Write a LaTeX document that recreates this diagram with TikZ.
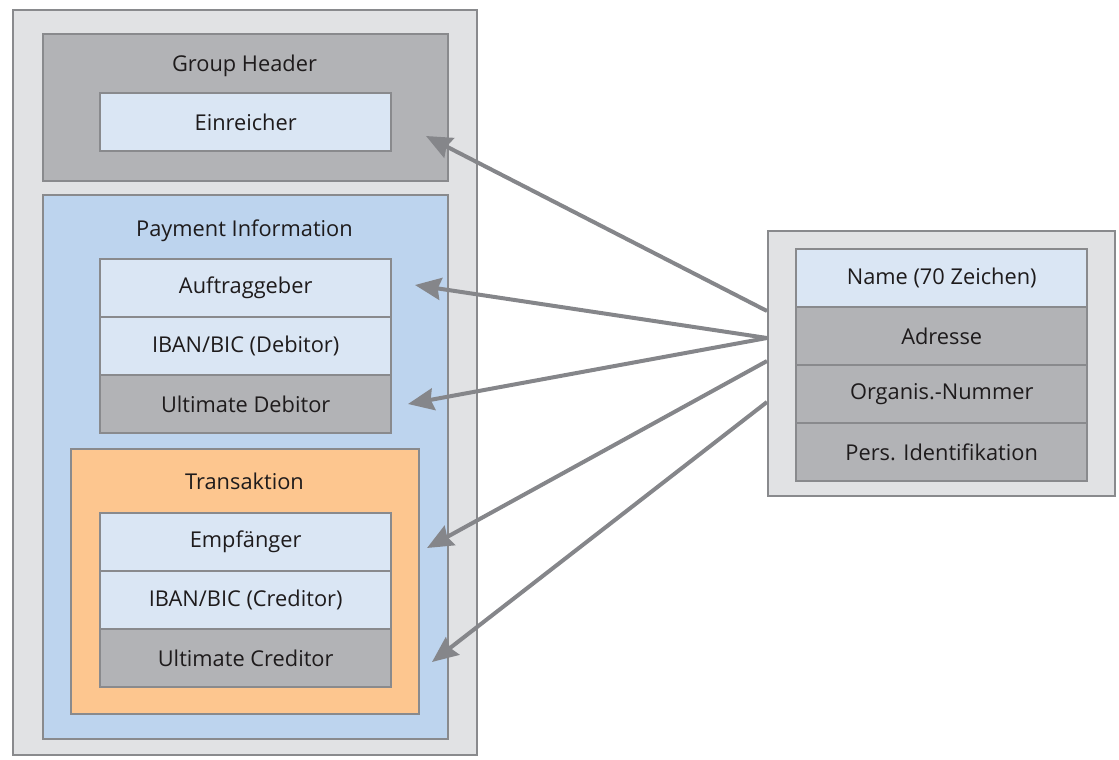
\documentclass[tikz,border=0pt]{standalone}
\usepackage{fontspec}
\setmainfont{Open Sans}
\usetikzlibrary{arrows.meta}
\definecolor{frame}{HTML}{898A8D}
\definecolor{paper}{HTML}{E1E2E4}
\definecolor{midgray}{HTML}{B2B3B6}
\definecolor{paleblue}{HTML}{DAE6F4}
\definecolor{skyblue}{HTML}{BDD4EE}
\definecolor{apricot}{HTML}{FDC68F}
\definecolor{ink}{HTML}{1E1B1C}
\definecolor{wire}{HTML}{85868A}
\tikzset{
  panel/.style={draw=frame, line width=2.4pt, anchor=north west, inner sep=0pt},
  cell/.style={panel, minimum width=291pt, minimum height=58pt,
    text=ink, font=\fontsize{21.8}{26}\selectfont},
  title/.style={text=ink, font=\fontsize{21.8}{26}\selectfont, inner sep=0pt, anchor=base},
  link/.style={draw=wire, line width=4pt,
    -{Stealth[inset=3pt, length=26pt, width=22pt]}},
}
\begin{document}
\begin{tikzpicture}[x=1pt, y=-1pt]
\useasboundingbox (0,0) rectangle (1119,760);
% message container
\node[panel, fill=paper, minimum width=464pt, minimum height=745pt] (msg) at (12,9) {};
% group header
\node[panel, fill=midgray, minimum width=405pt, minimum height=147pt] (gh) at (42,33) {};
\node[title] (ghT) at (244.5,72) {Group Header};
\node[cell, fill=paleblue] (ein) at (99,92) {Einreicher};
% payment information
\node[panel, fill=skyblue, minimum width=405pt, minimum height=544pt] (pi) at (42,194) {};
\node[title] (piT) at (244.5,236) {Payment Information};
\node[cell, fill=paleblue] (auf) at (99,258) {Auftraggeber};
\node[cell, fill=paleblue] (ibd) at (99,316) {IBAN/BIC (Debitor)};
\node[cell, fill=midgray] (uld) at (99,374) {Ultimate Debitor};
% transaction
\node[panel, fill=apricot, minimum width=348pt, minimum height=265pt] (tx) at (70,448) {};
\node[title] (txT) at (244.5,489) {Transaktion};
\node[cell, fill=paleblue] (emp) at (99,512) {Empfänger};
\node[cell, fill=paleblue] (ibc) at (99,570) {IBAN/BIC (Creditor)};
\node[cell, fill=midgray] (ulc) at (99,628) {Ultimate Creditor};
% party identification block
\node[panel, fill=paper, minimum width=347pt, minimum height=265pt] (party) at (767,230) {};
\node[cell, fill=paleblue] (nam) at (795,248) {Name (70 Zeichen)};
\node[cell, fill=midgray] (adr) at (795,306) {Adresse};
\node[cell, fill=midgray] (org) at (795,364) {Organis.-Nummer};
\node[cell, fill=midgray] (pid) at (795,422) {Pers. Identifikation};
% connector ends
\coordinate (s1) at (767,311);
\coordinate (s2) at (767,338);
\coordinate (s4) at (767,361);
\coordinate (s5) at (767,402);
\coordinate (t1) at (426,136);
\coordinate (t2) at (415,285);
\coordinate (t3) at (408,404);
\coordinate (t4) at (427,548);
\coordinate (t5) at (432,662);
\draw[link] (s1) -- (t1);
\draw[link] (s2) -- (t2);
\draw[link] (s2) -- (t3);
\draw[link] (s4) -- (t4);
\draw[link] (s5) -- (t5);
\end{tikzpicture}
\end{document}
